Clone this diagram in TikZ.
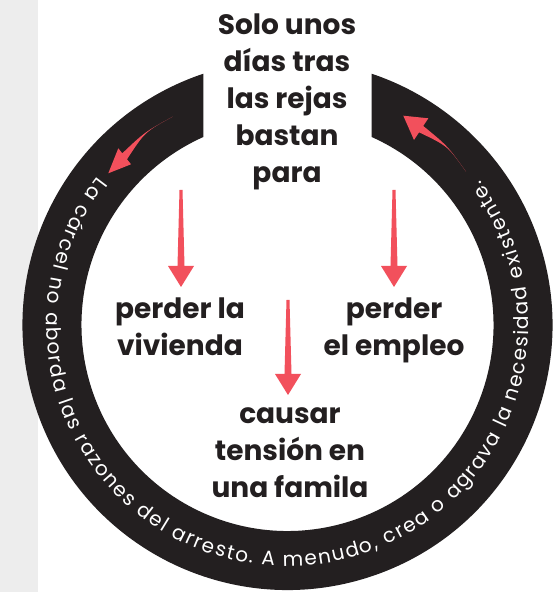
\documentclass[tikz,border=0pt]{standalone}
\usepackage{fontspec}
\setmainfont{Poppins}
\usetikzlibrary{calc,decorations.text}

\definecolor{inkblack}{HTML}{231F20}
\definecolor{arrowred}{HTML}{F2505C}
\definecolor{sidegrey}{HTML}{EDEDED}

% straight tapered arrow, from #1 down to the tip #2
\newcommand\droparrow[2]{%
  \fill[arrowred] ($(#1)+(-1.5,0)$) -- ($(#1)+(1.5,0)$) -- ($(#2)+(3.5,21)$)
    -- ($(#2)+(13,21)$) -- (#2) -- ($(#2)+(-13,21)$) -- ($(#2)+(-3.5,21)$) -- cycle;}
% bent tapered arrow: start #1, control #2, head corners #3 and #5, tip #4
\newcommand\bentarrow[5]{%
  \coordinate (hb) at ($(#3)!0.5!(#5)$);
  \fill[arrowred] (#1) .. controls (#2) .. ($(hb)!3.8pt!(#3)$) -- (#3) -- (#4) -- (#5)
    -- ($(hb)!3.8pt!(#5)$) .. controls (#2) .. (#1) -- cycle;}

\begin{document}
\begin{tikzpicture}[x=1pt,y=1pt,
  lead/.style={font=\fontsize{28}{37}\selectfont\bfseries,text=inkblack,align=center,inner sep=0pt}
]
\useasboundingbox (0,0) rectangle (555,592);
\fill[white] (0,0) rectangle (555,592);
\fill[sidegrey] (0,0) rectangle (38,592);

\coordinate (c) at (287.5,267);
% the ring, open at the top
\fill[inkblack] ($(c)+(108.5:265pt)$) arc[start angle=108.5,end angle=431.5,radius=265pt]
  -- ($(c)+(65.9:206pt)$) arc[start angle=65.9,end angle=-245.9,radius=206pt] -- cycle;
\path[decorate,decoration={text along path,text align=fit to path,
  text={|\color{white}\fontsize{20}{20}\selectfont|La cárcel no aborda las razones del arresto. A menudo, crea o agrava la necesidad existente.}}]
  ($(c)+(142:241pt)$) arc[start angle=142,end angle=397,radius=241pt];

\node[lead,anchor=north] (intro) at (287,578) {Solo unos\\días tras\\las rejas\\bastan\\para};
\node[lead,anchor=north] (home) at (180,294) {perder la\\vivienda};
\node[lead,anchor=north] (job) at (394,294) {perder\\el empleo};
\node[lead,anchor=north] (family) at (290,185) {causar\\tensión en\\una famila};

% arrows
\coordinate (h0) at (181,402);  \coordinate (h1) at (181,305);
\coordinate (j0) at (394,402);  \coordinate (j1) at (394,305);
\coordinate (f0) at (288,292);  \coordinate (f1) at (288,197);
\droparrow{h0}{h1}
\droparrow{j0}{j1}
\droparrow{f0}{f1}

\coordinate (ls) at (172.7,475.3); \coordinate (lc) at (144.9,460.1);
\coordinate (la) at (131,427.7);   \coordinate (lt) at (108.3,418.7);
\coordinate (lb) at (118.3,443.7);
\bentarrow{ls}{lc}{la}{lt}{lb}
\coordinate (rs) at (466,420.3);   \coordinate (rc) at (447.7,446);
\coordinate (ra) at (428.3,473.7); \coordinate (rt) at (403.3,476.3);
\coordinate (rb) at (414,452);
\bentarrow{rs}{rc}{ra}{rt}{rb}
\end{tikzpicture}
\end{document}
